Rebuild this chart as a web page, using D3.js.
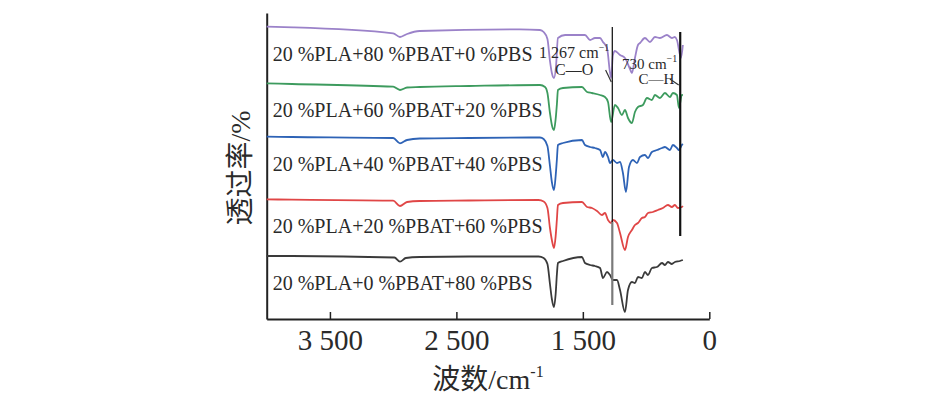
<!DOCTYPE html>
<html>
<head>
<meta charset="utf-8">
<script src="https://cdn.jsdelivr.net/npm/d3@7"></script>
<style>
  body { margin: 0; background: #fff; }
  svg { display: block; }
  text { font-family: "Liberation Serif", "DejaVu Serif", "Noto Sans CJK SC", serif; fill: #2a2a2a; }
</style>
</head>
<body>
<svg id="svg"></svg>
<script>
// FTIR spectra, stacked (bottom to top)
var labels = [
  '20 %PLA+0 %PBAT+80 %PBS',
  '20 %PLA+20 %PBAT+60 %PBS',
  '20 %PLA+40 %PBAT+40 %PBS',
  '20 %PLA+60 %PBAT+20 %PBS',
  '20 %PLA+80 %PBAT+0 %PBS'
];
var colors = ['#3a3a3a', '#e04646', '#2e63b6', '#3d9b5e', '#9b82c9'];
var offsets = [0, 55, 115, 170, 228];

// [wavenumber, transmittance (a.u.)]
var pbs80 = [[4000,63],[3800,63],[2990,61.5],[2946,57.3],[2900,61],[2790,62],[2400,62.5],[1850,62.5],[1810,61],[1780,55],[1760,35],[1745,20],[1728,12],[1715,25],[1705,45],[1697,56],[1657,58],[1507,62],[1483,56],[1443,54],[1404,53],[1364,51],[1341,41],[1309,47],[1285,44],[1262,39],[1230,39],[1206,29],[1167,7],[1143,29],[1112,37],[1088,36],[1064,42],[1033,41],[1009,47],[985,44],[954,51],[914,52],[874,56],[851,54],[827,57],[796,55],[772,57],[732,58],[709,59]];
var pbs60 = [[4000,64.7],[3800,64.3],[3000,63.3],[2946,58],[2890,62],[2790,63],[2400,63.5],[1850,64],[1810,62.5],[1780,56],[1760,36],[1745,24],[1728,16],[1715,28],[1705,45],[1697,59],[1657,61],[1507,62],[1467,57],[1428,56],[1388,53],[1349,49],[1325,51],[1301,44],[1277,41],[1262,44],[1230,41],[1206,31],[1167,14],[1143,27],[1112,34],[1088,39],[1064,41],[1033,46],[1009,47],[985,51],[946,52],[906,54],[867,56],[827,59],[796,57],[772,59],[748,56],[717,57],[709,58]];
var pbs40 = [[4000,67.3],[3800,67],[3000,66],[2946,60.7],[2890,64],[2790,65.5],[2400,66],[1839,66.5],[1810,65],[1780,58],[1760,38],[1745,22],[1728,14],[1715,28],[1705,45],[1697,59],[1657,61],[1507,64],[1483,59],[1443,57],[1404,56],[1364,54],[1341,47],[1325,52],[1301,47],[1285,41],[1262,44],[1230,41],[1206,42],[1183,31],[1159,12],[1135,37],[1104,44],[1072,41],[1048,47],[1009,49],[985,46],[954,52],[914,54],[874,56],[851,57],[811,54],[788,59],[756,56],[740,54],[717,59],[709,60]];
var pbs20 = [[4000,65.7],[3800,65],[3000,62.3],[2946,59],[2890,61.5],[2790,62],[2400,63],[1839,64],[1799,62],[1780,56],[1760,36],[1745,24],[1728,19],[1715,30],[1705,45],[1697,59],[1657,61],[1507,62],[1467,57],[1428,56],[1364,54],[1325,52],[1301,47],[1277,27],[1246,44],[1222,41],[1191,34],[1167,39],[1143,31],[1112,26],[1088,37],[1064,42],[1025,44],[993,51],[954,49],[930,54],[890,51],[851,56],[811,52],[788,56],[756,54],[740,41],[717,54],[709,54]];
var pbs0 = [[4000,64.3],[3790,63.7],[3000,57.7],[2946,54],[2890,57],[2790,60],[2000,61.7],[1839,61],[1810,59],[1780,52],[1760,30],[1745,18],[1728,13],[1712,25],[1697,53],[1640,56],[1483,56],[1443,51],[1404,53],[1364,53],[1341,49],[1309,43],[1277,13],[1262,36],[1246,40],[1206,36],[1167,33],[1127,22],[1112,18],[1088,33],[1064,46],[1048,48],[1009,53],[969,49],[930,54],[890,53],[835,56],[796,53],[772,54],[756,51],[724,33],[709,46]];
var spectra = [pbs80, pbs60, pbs40, pbs20, pbs0];

var tickValues = [3500, 2500, 1500, 500];
var tickLabels = ['3 500', '2 500', '1 500', '0'];

// marked bands
var bands = [
  { wn: 1267, top: 292, bottom: 14, split: 97 },
  { wn: 730, top: 287, bottom: 83, split: null }
];

var width = 927, height = 415;
var svg = d3.select('#svg').attr('width', width).attr('height', height);

var x = d3.scaleLinear().domain([4000, 500]).range([266.7, 709.3]);
var y = d3.scaleLinear().domain([0, 306]).range([319, 13]);

// axes
var xAxis = d3.axisBottom(x)
  .tickValues(tickValues)
  .tickFormat(function (d, i) { return tickLabels[i]; })
  .tickSizeInner(-7)
  .tickSizeOuter(0)
  .tickPadding(10);
var gx = svg.append('g').attr('transform', 'translate(0,' + y(0) + ')').call(xAxis);
gx.select('.domain').attr('stroke', '#222').attr('stroke-width', 2);
gx.selectAll('.tick line').attr('stroke', '#222').attr('stroke-width', 1.5);
gx.selectAll('.tick text')
  .attr('fill', '#2a2a2a')
  .style('font-family', '"Liberation Serif", serif')
  .style('font-size', '29px');

var gy = svg.append('g').attr('transform', 'translate(' + x(4000) + ',0)')
  .call(d3.axisLeft(y).tickValues([]).tickSizeOuter(0));
gy.select('.domain').attr('stroke', '#222').attr('stroke-width', 2);

// spectra
var line = d3.line()
  .x(function (d) { return x(d[0]); })
  .y(function (d) { return y(d[1]); })
  .curve(d3.curveMonotoneX);

spectra.forEach(function (s, i) {
  var pts = s.map(function (p) { return [p[0], p[1] + offsets[i]]; });
  svg.append('path')
    .attr('d', line(pts))
    .attr('fill', 'none')
    .attr('stroke', colors[i])
    .attr('stroke-width', 1.8)
    .attr('stroke-linejoin', 'round');

  svg.append('text')
    .attr('x', x(4000) + 6)
    .attr('y', y(offsets[i] + s[0][1]) + 34)
    .style('font-size', '20px')
    .text(labels[i]);
});

// band markers
bands.forEach(function (b) {
  if (b.split !== null) {
    svg.append('line')
      .attr('x1', x(b.wn)).attr('x2', x(b.wn))
      .attr('y1', y(b.top)).attr('y2', y(b.split))
      .attr('stroke', '#1a1a1a').attr('stroke-width', 1.3);
    svg.append('line')
      .attr('x1', x(b.wn)).attr('x2', x(b.wn))
      .attr('y1', y(b.split)).attr('y2', y(b.bottom))
      .attr('stroke', '#7a7a7a').attr('stroke-width', 2.2);
  } else {
    svg.append('line')
      .attr('x1', x(b.wn)).attr('x2', x(b.wn))
      .attr('y1', y(b.top)).attr('y2', y(b.bottom))
      .attr('stroke', '#111').attr('stroke-width', 2.2);
  }
});

// annotations
var a1 = svg.append('text').attr('x', x(1846)).attr('y', y(261)).style('font-size', '16px');
a1.append('tspan').text('1 267 cm');
a1.append('tspan').attr('dy', -7).style('font-size', '10px').text('−1');
svg.append('text').attr('x', x(1720)).attr('y', y(244)).style('font-size', '16px').text('C—O');
svg.append('line')
  .attr('x1', x(1320)).attr('y1', y(249))
  .attr('x2', x(1275)).attr('y2', y(237))
  .attr('stroke', '#333').attr('stroke-width', 1.2);

var a2 = svg.append('text').attr('x', x(1190)).attr('y', y(250)).style('font-size', '15px');
a2.append('tspan').text('730 cm');
a2.append('tspan').attr('dy', -7).style('font-size', '10px').text('−1');
svg.append('text').attr('x', x(1060)).attr('y', y(235)).style('font-size', '15px').text('C—H');
svg.append('line')
  .attr('x1', x(812)).attr('y1', y(240))
  .attr('x2', x(742)).attr('y2', y(234))
  .attr('stroke', '#333').attr('stroke-width', 1.2);

// axis titles
var xt = svg.append('text')
  .attr('x', 488).attr('y', 389)
  .attr('text-anchor', 'middle')
  .style('font-size', '28px');
xt.append('tspan').text('波数/cm');
xt.append('tspan').attr('dy', -12).style('font-size', '16px').text('-1');

svg.append('text')
  .attr('transform', 'translate(250,168) rotate(-90)')
  .attr('text-anchor', 'middle')
  .style('font-size', '28px')
  .text('透过率/%');
</script>
</body>
</html>
